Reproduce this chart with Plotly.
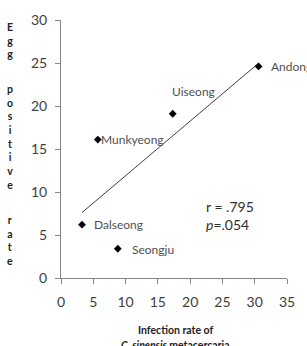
import numpy as np
import plotly.graph_objects as go

regions = ["Andong", "Uiseong", "Munkyeong", "Dalseong", "Seongju"]
infection_rate = [30.6, 17.3, 5.7, 3.25, 8.8]
egg_positive_rate = [24.6, 19.1, 16.1, 6.2, 3.4]
x_ticks = [0, 5, 10, 15, 20, 25, 30, 35]
y_ticks = [0, 5, 10, 15, 20, 25, 30]
stat_lines = ["r = .795", "<i>p</i>=.054"]

# label offsets (px) for each region label
label_dx = [10, -3, 1, 10, 12]
label_dy = [0, 22, 0, 0, -1]

FONT = "Lato"
W, H = 307, 346
ML, MR, MT, MB = 61, 20, 20, 68
PH = H - MT - MB

fig = go.Figure()

# regression line from data
slope, intercept = np.polyfit(infection_rate, egg_positive_rate, 1)
xl = np.array([min(infection_rate), max(infection_rate)])
fig.add_trace(go.Scatter(x=xl, y=slope * xl + intercept, mode="lines",
                         line=dict(color="#404040", width=1), hoverinfo="skip"))

fig.add_trace(go.Scatter(x=infection_rate, y=egg_positive_rate, mode="markers",
                         marker=dict(symbol="diamond", size=6, color="black"),
                         hoverinfo="skip"))

anns = []
for name, xv, yv, dx, dy in zip(regions, infection_rate, egg_positive_rate, label_dx, label_dy):
    anns.append(dict(x=xv, y=yv, xref="x", yref="y", text=name, showarrow=False,
                     xanchor="left", yanchor="middle", xshift=dx, yshift=dy,
                     font=dict(family=FONT, size=12, color="#505050")))

def ypaper(ypix):
    return (H - MB - ypix) / PH

anns.append(dict(x=0, y=ypaper(206), xref="paper", yref="paper", xshift=230 - ML,
                 text=stat_lines[0], showarrow=False, xanchor="center", yanchor="middle",
                 font=dict(family=FONT, size=14, color="#303030")))
anns.append(dict(x=0, y=ypaper(224.5), xref="paper", yref="paper", xshift=227 - ML,
                 text=stat_lines[1], showarrow=False, xanchor="center", yanchor="middle",
                 font=dict(family=FONT, size=14, color="#303030")))

# vertical stacked y-axis title
words = [("Egg", 40), ("positive", 137), ("rate", 240.5)]
for w, yc in words:
    anns.append(dict(x=0, y=ypaper(yc), xref="paper", yref="paper", xshift=10 - ML,
                     text="<br>".join(list(w)), showarrow=False, xanchor="center",
                     yanchor="middle",
                     font=dict(family=FONT, size=10.5, color="#222222", weight="bold")))

# x-axis title
anns.append(dict(x=0, y=ypaper(330), xref="paper", yref="paper", xshift=175 - ML,
                 text="<b>Infection rate of</b>", showarrow=False, xanchor="center",
                 yanchor="middle", font=dict(family=FONT, size=10.5, color="#222222")))
anns.append(dict(x=0, y=ypaper(345), xref="paper", yref="paper", xshift=175 - ML,
                 text="<b><i>C. sinensis</i> metacercaria</b>", showarrow=False,
                 xanchor="center", yanchor="middle",
                 font=dict(family=FONT, size=10.5, color="#222222")))

fig.update_layout(
    width=W, height=H, margin=dict(l=ML, r=MR, t=MT, b=MB),
    paper_bgcolor="white", plot_bgcolor="white", showlegend=False,
    annotations=anns,
    xaxis=dict(range=[0, 35], tickvals=x_ticks, showgrid=False, zeroline=False,
               showline=True, linecolor="#868686", linewidth=1, ticks="outside",
               ticklen=5, tickcolor="#868686", ticklabelstandoff=6,
               tickfont=dict(family=FONT, size=14, color="#404040")),
    yaxis=dict(range=[0, 30], tickvals=y_ticks, showgrid=False, zeroline=False,
               showline=True, linecolor="#868686", linewidth=1, ticks="outside",
               ticklen=5, tickcolor="#868686", ticklabelstandoff=5,
               tickfont=dict(family=FONT, size=14, color="#404040")),
)

fig.write_html("out.html")
